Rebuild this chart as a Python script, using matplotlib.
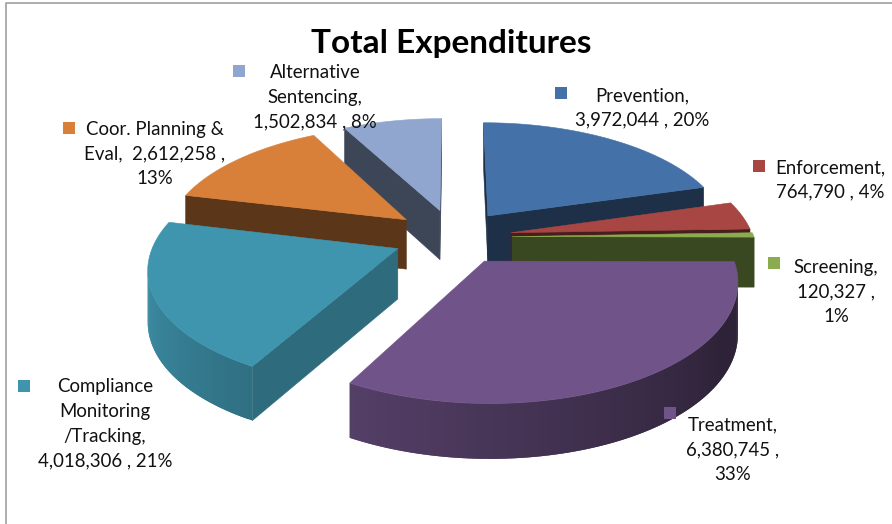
import matplotlib
matplotlib.use('Agg')
import matplotlib.pyplot as plt
import numpy as np
from matplotlib.colors import to_rgb
from matplotlib.patches import Polygon, Rectangle

# slices, clockwise from 12 o'clock
names = ['Prevention', 'Enforcement', 'Screening', 'Treatment',
         'Compliance', 'Coor. Planning', 'Alternative']
values = [3972044, 764790, 120327, 6380745, 4018306, 2612258, 1502834]
colors = ['#4472A8', '#A84644', '#8AAC4E', '#705489', '#4095AE', '#D8803A', '#91A6CE']
labels = ['Prevention,\n3,972,044 , 20%',
          'Enforcement,\n764,790 , 4%',
          'Screening,\n120,327 ,\n1%',
          'Treatment,\n6,380,745 ,\n33%',
          'Compliance\nMonitoring\n/Tracking,\n4,018,306 , 21%',
          'Coor. Planning &\nEval,  2,612,258 ,\n13%',
          'Alternative\nSentencing,\n1,502,834 , 8%']
title = 'Total Expenditures'

# layout, in pixels of the reference
label_xy = [(642, 108), (830, 180), (836, 292), (733, 450), (105, 424), (155, 154), (315, 97)]
swatch_xy = [(561, 93), (759, 166), (774, 263), (670, 413), (24, 386), (69, 128), (239, 71)]
explode = [0.24, 0.24, 0.24, 0.24, 0.25, 0.255, 0.25]
draw_order = [6, 5, 0, 1, 2, 4, 3]

# camera of the 3D pie
CX, CY = 454, 237
RX, RY = 242, 113
K = 0.15  # perspective strength
HEIGHT = 50


def project(x, y, z):
    s = 1 / (1 + K * y)
    sz = 1 / (1 + 0.08 * y)
    return CX + RX * x * s, CY - RY * y * s + HEIGHT * z * sz


def shade(color, f):
    return tuple(c * f for c in to_rgb(color))


def signed_area(pts):
    pts = np.array(pts)
    x, y = pts[:, 0], pts[:, 1]
    return 0.5 * np.sum(x * np.roll(y, -1) - np.roll(x, -1) * y)


def face(ax, pts, color):
    ax.add_patch(Polygon(pts, closed=True, facecolor=color, edgecolor=color, linewidth=0.4))


def draw_slice(ax, a0, a1, color, e, cut_start=0.42, cut_end=0.42):
    mid = np.radians((a0 + a1) / 2)
    ox, oy = e * np.sin(mid), e * np.cos(mid)
    th = np.radians(np.linspace(a0, a1, max(int(a1 - a0), 4)))
    xs, ys = ox + np.sin(th), oy + np.cos(th)

    # cut faces, only those turned to the viewer (y axis points down here)
    for ang, f, flip in [(a0, cut_start, 1), (a1, cut_end, -1)]:
        t = np.radians(ang)
        x, y = ox + np.sin(t), oy + np.cos(t)
        pts = [project(ox, oy, 0), project(x, y, 0), project(x, y, 1), project(ox, oy, 1)]
        if signed_area(pts) * flip < 0:
            face(ax, pts, shade(color, f))

    # outer wall, strips overlap the next one so no seams show
    for i in range(len(th) - 1):
        j = min(i + 2, len(th) - 1)
        pts = [project(xs[i], ys[i], 0), project(xs[j], ys[j], 0),
               project(xs[j], ys[j], 1), project(xs[i], ys[i], 1)]
        if signed_area(pts) < 0:
            deg = np.degrees(th[i])
            f = np.clip(0.41 + (deg - 120) / 140 * 0.54, 0.41, 0.95)
            ax.add_patch(Polygon(pts, closed=True, facecolor=shade(color, f), edgecolor='none'))

    top = [project(ox, oy, 0)] + [project(x, y, 0) for x, y in zip(xs, ys)]
    face(ax, top, color)


fig = plt.figure(figsize=(8.92, 5.24), dpi=100)
ax = fig.add_axes([0, 0, 1, 1])
ax.set_xlim(0, 892)
ax.set_ylim(524, 0)
ax.axis('off')

# chart frame, only left and top show
ax.plot([5.5, 5.5, 892], [524, 2.5, 2.5], color='#a0a0a0', linewidth=1.2)

edges = np.concatenate([[0], np.cumsum(values)]) / np.sum(values) * 360
for i in draw_order:
    cut = 0.72 if names[i] == 'Compliance' else 0.42
    draw_slice(ax, edges[i], edges[i + 1], colors[i], explode[i], cut_start=cut)

for i in range(len(names)):
    sx, sy = swatch_xy[i]
    ax.add_patch(Rectangle((sx - 6, sy - 6), 12, 12, facecolor=colors[i], edgecolor='none'))
    ax.text(label_xy[i][0], label_xy[i][1], labels[i], ha='center', va='center',
            family='Lato', fontsize=13.4, color='#111111', linespacing=1.55)

ax.text(451, 44, title, ha='center', va='center', family='Lato',
        fontweight='bold', fontsize=24, color='black')

fig.savefig('out.png', dpi=100)
